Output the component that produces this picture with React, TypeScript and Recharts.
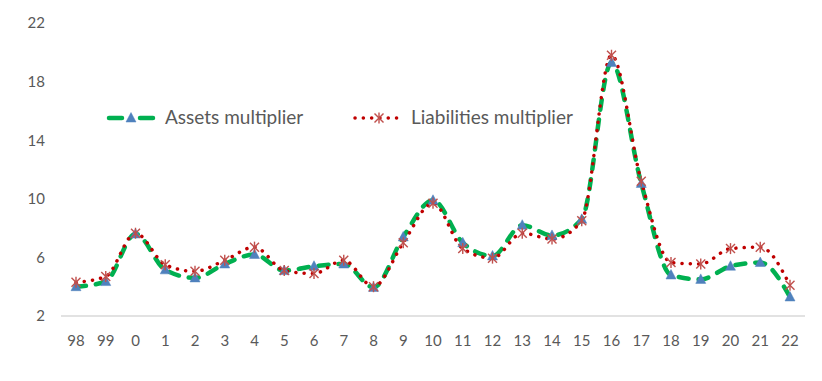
import React from 'react';
import { LineChart, Line, XAxis, YAxis } from 'recharts';

// Years shown as two digits on the category axis
const years = ['98', '99', '0', '1', '2', '3', '4', '5', '6', '7', '8', '9', '10', '11', '12', '13', '14', '15', '16', '17', '18', '19', '20', '21', '22'];
const assetsMultiplier = [4.0, 4.35, 7.6, 5.15, 4.6, 5.55, 6.2, 5.1, 5.4, 5.55, 3.95, 7.4, 9.9, 7.0, 6.1, 8.2, 7.5, 8.6, 19.3, 11.05, 4.8, 4.5, 5.4, 5.65, 3.3];
const liabilitiesMultiplier = [4.3, 4.7, 7.65, 5.5, 5.05, 5.8, 6.7, 5.1, 4.9, 5.8, 4.0, 7.0, 9.7, 6.6, 5.95, 7.65, 7.25, 8.5, 19.8, 11.2, 5.65, 5.55, 6.6, 6.7, 4.1];
const yTicks = [2, 6, 10, 14, 18, 22];

const data = years.map((year, i) => ({
  year,
  assets: assetsMultiplier[i],
  liabilities: liabilitiesMultiplier[i],
}));

const GREEN = '#00B050';
const BLUE = '#4F81BD';
const DARK_RED = '#C00000';
const STAR_RED = '#C0504D';
const TEXT = '#595959';
const FONT = 'Lato, "Open Sans", sans-serif';

const triangle = (cx: number, cy: number, key?: string) => (
  <path
    key={key}
    d={`M${cx},${cy - 5.5} L${cx + 5},${cy + 4} L${cx - 5},${cy + 4} Z`}
    fill={BLUE}
    stroke={BLUE}
    strokeWidth={0.5}
  />
);

const star = (cx: number, cy: number, key?: string) => (
  <g key={key} stroke={STAR_RED} strokeWidth={1.4}>
    <line x1={cx - 4.5} y1={cy - 4.5} x2={cx + 4.5} y2={cy + 4.5} />
    <line x1={cx - 4.5} y1={cy + 4.5} x2={cx + 4.5} y2={cy - 4.5} />
    <line x1={cx} y1={cy - 5.5} x2={cx} y2={cy + 5.5} />
  </g>
);

const TriangleDot = (props: any) => triangle(props.cx, props.cy, `t-${props.index}`);
const StarDot = (props: any) => star(props.cx, props.cy, `s-${props.index}`);

// legend drawn on top of the plot, like the Excel original
const ChartLegend = () => (
  <div style={{ position: 'absolute', left: 0, top: 103, width: 822, height: 30, fontFamily: FONT, fontSize: 19, color: TEXT }}>
    <svg width={822} height={30} style={{ position: 'absolute', left: 0, top: 0 }}>
      <line x1={109} y1={15} x2={155} y2={15} stroke={GREEN} strokeWidth={4.5} strokeLinecap="round" strokeDasharray="13 18" />
      {triangle(131, 15)}
      <line x1={355} y1={15} x2={401} y2={15} stroke={DARK_RED} strokeWidth={3.5} strokeLinecap="round" strokeDasharray="0.1 8.2" />
      {star(379, 15)}
    </svg>
    <span style={{ position: 'absolute', left: 165, top: 2, whiteSpace: 'nowrap' }}>Assets multiplier</span>
    <span style={{ position: 'absolute', left: 411, top: 2, whiteSpace: 'nowrap' }}>Liabilities multiplier</span>
  </div>
);

export default function App() {
  return (
    <div style={{ position: 'absolute', left: 0, top: 0, width: 822, height: 381, background: '#fff' }}>
      <LineChart width={822} height={381} data={data} margin={{ top: 23, right: 17, left: 0, bottom: 35 }}>
        <XAxis
          dataKey="year"
          axisLine={{ stroke: '#D9D9D9', strokeWidth: 1.5 }}
          tickLine={false}
          tickSize={0}
          tickMargin={19}
          height={30}
          interval={0}
          padding={{ left: 15, right: 15 }}
          tick={{ fill: TEXT, fontSize: 15, fontFamily: FONT }}
        />
        <YAxis
          domain={[2, 22]}
          ticks={yTicks}
          axisLine={false}
          tickLine={false}
          tickSize={0}
          tickMargin={16}
          width={61}
          tick={{ fill: TEXT, fontSize: 15, fontFamily: FONT }}
        />
        <Line
          type="monotone"
          dataKey="assets"
          name="Assets multiplier"
          stroke={GREEN}
          strokeWidth={4.5}
          strokeLinecap="round"
          strokeDasharray="10 10"
          dot={TriangleDot}
          activeDot={false}
          isAnimationActive={false}
        />
        <Line
          type="monotone"
          dataKey="liabilities"
          name="Liabilities multiplier"
          stroke={DARK_RED}
          strokeWidth={3.5}
          strokeLinecap="round"
          strokeDasharray="0.1 8.2"
          dot={StarDot}
          activeDot={false}
          isAnimationActive={false}
        />
      </LineChart>
      <ChartLegend />
    </div>
  );
}
